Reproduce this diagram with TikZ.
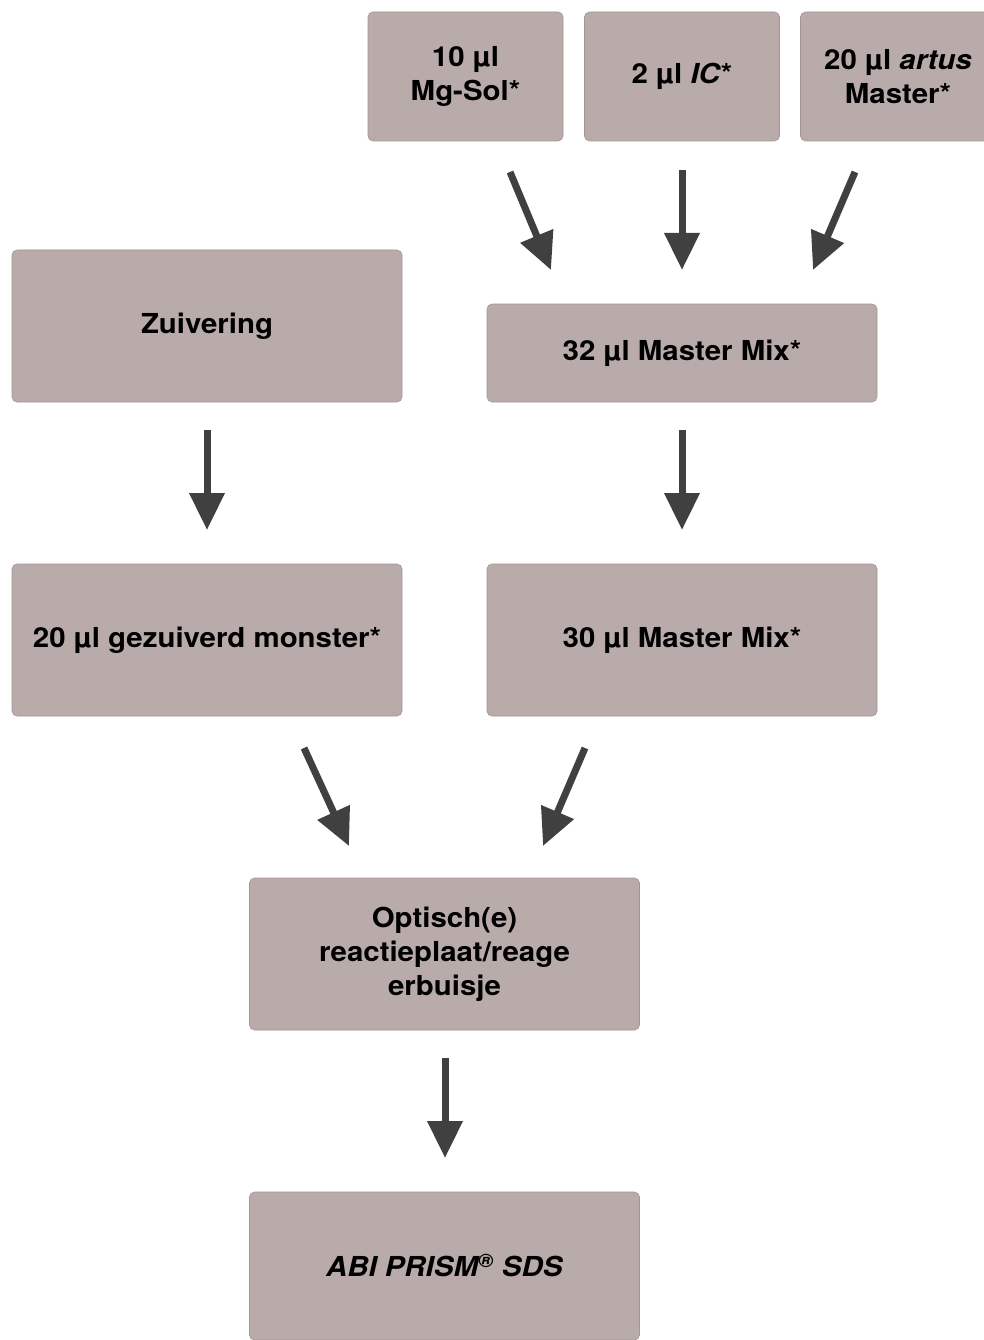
\documentclass[tikz,border=0pt]{standalone}
\usepackage{fontspec}
\setmainfont{TeX Gyre Heros}[FakeStretch=1.07]
\usetikzlibrary{arrows.meta}
\definecolor{boxgray}{RGB}{184,171,169}
\definecolor{arrowgray}{RGB}{64,64,64}
\tikzset{
    box/.style =    {rectangle,
                    rounded corners=5pt,
                    fill=boxgray,
                    draw=boxgray!88!black,
                    line width=0.6pt,
                    text=black,
                    align=center,
                    inner sep=0pt,
                    font=\fontsize{27.5}{34}\selectfont\bfseries},
    small/.style =  {box,
                    minimum width=195pt,
                    minimum height=129pt},
    wide/.style =   {box,
                    minimum width=390pt,
                    minimum height=152pt},
    flow/.style =   {draw=arrowgray,
                    line width=7pt,
                    -{Triangle[length=37pt,width=34pt]}}
}
\begin{document}
\begin{tikzpicture}[x=1pt,y=-1pt]
                \useasboundingbox (0,0) rectangle (984,1340);
                % ingredients
                \node[small]    (mg)      at (465.5,76.5) {10 µl\\Mg-Sol*};
                \node[small]    (ic)      at (682,76.5)   {2 µl \textit{IC}*};
                \node[small]    (artus)   at (898,76.5)   {20 µl \textit{artus}\\Master*};
                % middle rows
                \node[wide]     (zuiv)    at (207,326)    {Zuivering};
                \node[box, minimum width=390pt, minimum height=98pt]
                                (mixa)    at (682,353)    {32 µl Master Mix*};
                \node[wide]     (monster) at (207,640)    {20 µl gezuiverd monster*};
                \node[wide]     (mixb)    at (682,640)    {30 µl Master Mix*};
                % bottom
                \node[wide]     (plate)   at (444.5,954)  {Optisch(e)\\reactieplaat/reage\\erbuisje};
                \node[wide, minimum height=148pt]
                                (abi)     at (444.5,1266) {\textit{ABI PRISM\textsuperscript{®} SDS}};
                % arrow ends
                \coordinate (mgA) at (510,172);   \coordinate (mgB) at (551,270);
                \coordinate (icA) at (682,170);   \coordinate (icB) at (682,270);
                \coordinate (arA) at (855,172);   \coordinate (arB) at (813,270);
                \coordinate (zuA) at (207,430);   \coordinate (zuB) at (207,530);
                \coordinate (mxA) at (682,430);   \coordinate (mxB) at (682,530);
                \coordinate (moA) at (304,748);   \coordinate (moB) at (349,846);
                \coordinate (mbA) at (585,748);   \coordinate (mbB) at (543,846);
                \coordinate (plA) at (445,1058);  \coordinate (plB) at (445,1158);
                \foreach \a/\b in {mgA/mgB, icA/icB, arA/arB, zuA/zuB, mxA/mxB, moA/moB, mbA/mbB, plA/plB}
                    \draw[flow] (\a) -- (\b);
        \end{tikzpicture}
\end{document}
